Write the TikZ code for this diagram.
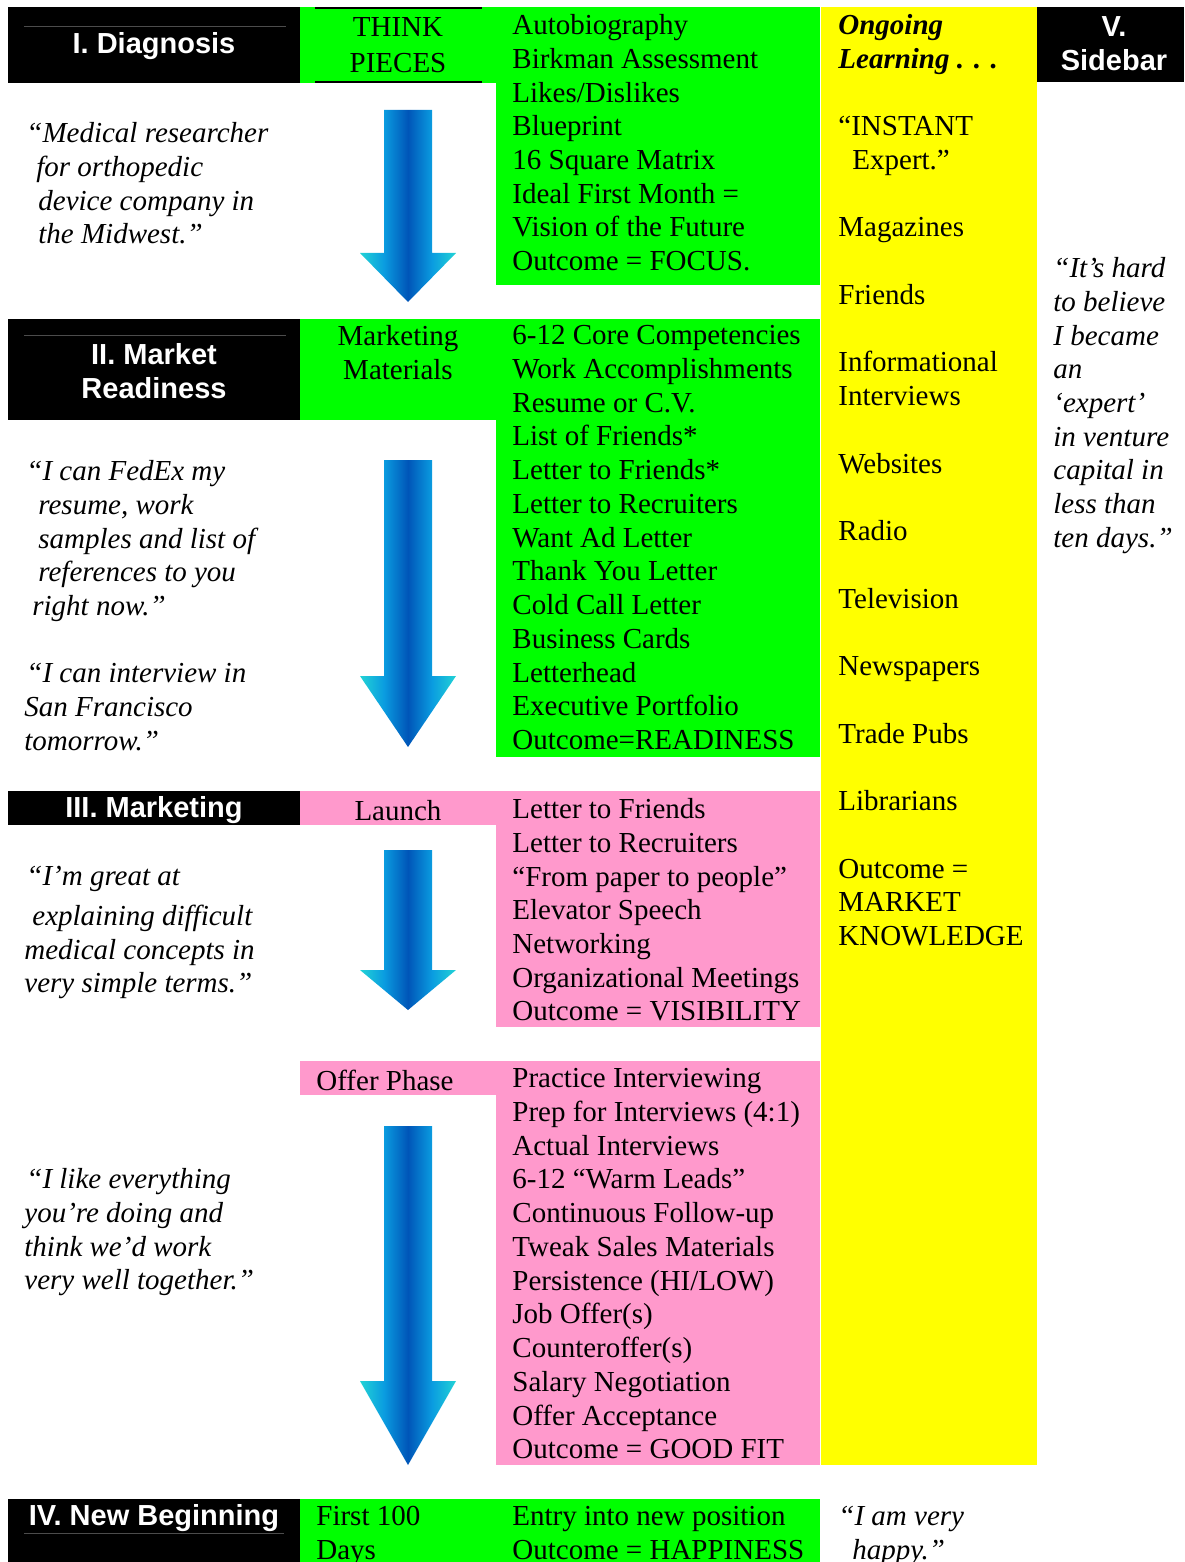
\documentclass[tikz,border=0pt]{standalone}
\usepackage{fontspec}
\setmainfont{Liberation Serif}
\setsansfont{Liberation Sans}
\definecolor{brightgreen}{HTML}{00FF00}
\definecolor{softpink}{HTML}{FF99CC}
\definecolor{pureyellow}{HTML}{FFFF00}
\definecolor{turq}{HTML}{22D3D6}
\definecolor{skyb}{HTML}{0A9CE0}
\definecolor{deepb}{HTML}{0055B8}
\pgfdeclarehorizontalshading{arrowblue}{100bp}{color(0bp)=(turq); color(25bp)=(turq); color(37.5bp)=(skyb); color(50bp)=(deepb); color(62.5bp)=(skyb); color(75bp)=(turq); color(100bp)=(turq)}
\newcommand{\flowarrow}[3]{\shade[flow] (384,#1) -- (432,#1) -- (432,#2) -- (456,#2) -- (408,#3) -- (360,#2) -- (384,#2) -- cycle;}

\begin{document}
\begin{tikzpicture}[x=0.5pt,y=-0.5pt,
    hdr/.style={text=white, font=\sffamily\bfseries\fontsize{14.5}{16.87}\selectfont, align=center, inner sep=0pt},
    body/.style={font=\fontsize{14.5}{16.87}\selectfont, align=left, inner sep=0pt, anchor=north west, execute at begin node=\rule{0pt}{11pt}},
    remark/.style={body, font=\fontsize{14.5}{16.87}\selectfont\itshape},
    flow/.style={shading=arrowblue}]
    \useasboundingbox (0,0) rectangle (1184,1562);

    % coloured blocks
    \fill (8,7) rectangle (300,83);
    \fill[brightgreen] (300,7) rectangle (496,83);
    \fill[brightgreen] (496,7) rectangle (820,285);
    \fill[pureyellow] (821,7) rectangle (1037,1465);
    \fill (1037,7) rectangle (1184,82);
    \fill (8,319) rectangle (300,420);
    \fill[brightgreen] (300,319) rectangle (496,420);
    \fill[brightgreen] (496,319) rectangle (820,757);
    \fill (8,791) rectangle (300,825);
    \fill[softpink] (300,791) rectangle (496,825);
    \fill[softpink] (496,791) rectangle (820,1027);
    \fill[softpink] (300,1061) rectangle (496,1095);
    \fill[softpink] (496,1061) rectangle (820,1465);
    \fill (8,1499) rectangle (300,1562);
    \fill[brightgreen] (300,1499) rectangle (820,1562);
    \draw[gray!60!black, line width=0.5pt] (24,27) -- (286,27);
    \draw[gray!60!black, line width=0.5pt] (24,335) -- (286,335);
    \draw[gray!60!black, line width=0.5pt] (24,1533) -- (284,1533);
    \draw[line width=1pt] (315,8) -- (482,8);
    \draw[line width=1pt] (315,82) -- (482,82);

    % I.
    \node[hdr] (diaghead) at (154,46) {I. Diagnosis};
    \node[body, anchor=north, align=center] (thinklabel) at (398,17) {THINK\\[1pt]PIECES};
    \node[body] (thinklist) at (512,14) {Autobiography\\Birkman Assessment\\Likes/Dislikes\\Blueprint\\16 Square Matrix\\Ideal First Month =\\Vision of the Future\\Outcome = FOCUS.};
    \node[remark] (diagquote) at (26,122) {“Medical researcher\\\hspace*{5pt}for orthopedic\\\hspace*{6pt}device company in\\\hspace*{6pt}the Midwest.”};
    \flowarrow{110}{253}{302}

    % II.
    \node[hdr] (readyhead) at (154,371) {II. Market\\Readiness};
    \node[body, anchor=north, align=center] (materialslabel) at (398,325) {Marketing\\Materials};
    \node[body] (readylist) at (512,325) {6-12 Core Competencies\\Work Accomplishments\\Resume or C.V.\\List of Friends*\\Letter to Friends*\\Letter to Recruiters\\Want Ad Letter\\Thank You Letter\\Cold Call Letter\\Business Cards\\Letterhead\\Executive Portfolio\\Outcome=READINESS};
    \node[remark] (readyquote) at (24,460) {\hspace*{1pt}“I can FedEx my\\\hspace*{7pt}resume, work\\\hspace*{7pt}samples and list of\\\hspace*{7pt}references to you\\\hspace*{4pt}right now.”\\[16.87pt]\hspace*{1pt}“I can interview in\\San Francisco\\tomorrow.”};
    \flowarrow{460}{676}{747}

    % III.
    \node[hdr] (markethead) at (154,810) {III. Marketing};
    \node[body, anchor=north, align=center] (launchlabel) at (398,798) {Launch};
    \node[body] (launchlist) at (512,798) {Letter to Friends\\Letter to Recruiters\\“From paper to people”\\Elevator Speech\\Networking\\Organizational Meetings\\Outcome = VISIBILITY};
    \node[remark] (marketquote) at (24,866) {\hspace*{1pt}“I’m great at\\[3pt]\hspace*{4pt}explaining difficult\\medical concepts in\\very simple terms.”};
    \flowarrow{850}{970}{1010}

    % offer
    \node[body] (offerlabel) at (316,1068) {Offer Phase};
    \node[body] (offerlist) at (512,1068) {Practice Interviewing\\Prep for Interviews (4:1)\\Actual Interviews\\6-12 “Warm Leads”\\Continuous Follow-up\\Tweak Sales Materials\\Persistence (HI/LOW)\\Job Offer(s)\\Counteroffer(s)\\Salary Negotiation\\Offer Acceptance\\Outcome = GOOD FIT};
    \node[remark] (offerquote) at (24,1168) {\hspace*{1pt}“I like everything\\you’re doing and\\think we’d work\\very well together.”};
    \flowarrow{1126}{1381}{1465}

    % IV.
    \node[hdr] (beginhead) at (154,1518) {IV. New Beginning};
    \node[body] (firstlabel) at (316,1506) {First 100\\Days};
    \node[body] (beginlist) at (512,1506) {Entry into new position\\Outcome = HAPPINESS};
    \node[remark] (happyquote) at (838,1506) {“I am very\\\hspace*{7pt}happy.”};

    % V.
    \node[body] (learnlist) at (838,14) {\textbf{\textit{Ongoing}}\\\textbf{\textit{Learning . . .}}\\[16.87pt]“INSTANT\\\hspace*{7pt}Expert.”\\[16.87pt]Magazines\\[16.87pt]Friends\\[16.87pt]Informational\\Interviews\\[16.87pt]Websites\\[16.87pt]Radio\\[16.87pt]Television\\[16.87pt]Newspapers\\[16.87pt]Trade Pubs\\[16.87pt]Librarians\\[16.87pt]Outcome =\\MARKET\\KNOWLEDGE};
    \node[hdr] (sidehead) at (1114,44) {V.\\Sidebar};
    \node[remark] (sidequote) at (1053,257) {“It’s hard\\to believe\\I became\\an\\‘expert’\\in venture\\capital in\\less than\\ten days.”};
\end{tikzpicture}
\end{document}
